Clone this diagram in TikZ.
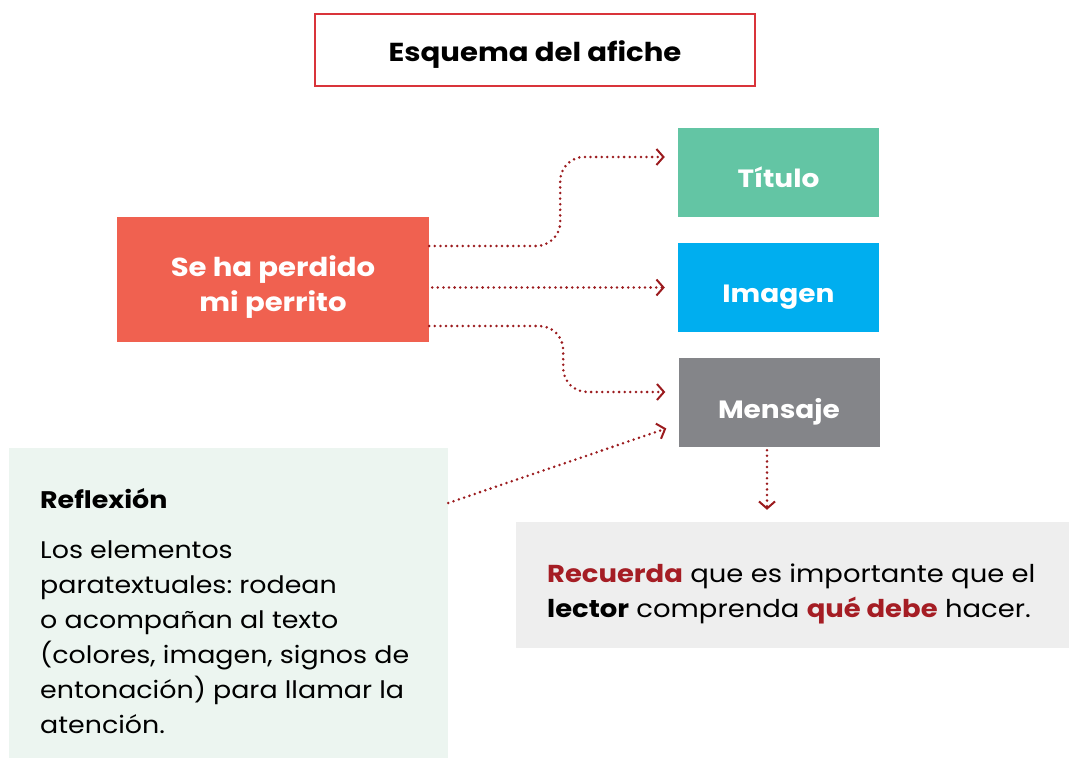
\documentclass[tikz,border=0pt]{standalone}
\usepackage{fontspec}
\setmainfont[FakeStretch=1.12]{Poppins}
\frenchspacing
\usetikzlibrary{arrows.meta,calc}
\definecolor{titred}{HTML}{D9343A}
\definecolor{arrred}{HTML}{9B1B1E}
\definecolor{txtred}{HTML}{A51D24}
\definecolor{orangebox}{HTML}{F06150}
\definecolor{greenbox}{HTML}{63C5A4}
\definecolor{bluebox}{HTML}{00AEEF}
\definecolor{greybox}{HTML}{848589}
\definecolor{mintbox}{HTML}{ECF5F0}
\definecolor{lightgrey}{HTML}{EEEEEE}
\tikzset{
  colbox/.style={rectangle, inner sep=0pt, minimum width=201pt, minimum height=89pt,
     text=white, font=\fontsize{25}{34}\selectfont\bfseries},
  conn/.style={draw=arrred, line width=2.8pt, line cap=round,
     dash pattern=on 0pt off 5.6pt,
     -{Straight Barb[length=7pt, width=16pt, line width=2pt, line cap=butt]}},
}
\begin{document}
\begin{tikzpicture}[x=1pt,y=-1pt]
\useasboundingbox (0,0) rectangle (1069,759);
% title
\node[draw=titred, line width=2pt, minimum width=440pt, minimum height=72pt, inner sep=0pt] (title) at (535,50) {};
\node[anchor=base, inner sep=0pt, font=\fontsize{26}{34}\selectfont\bfseries] (titlet) at (535,62) {Esquema del afiche};
% main box
\node[fill=orangebox, minimum width=312pt, minimum height=125pt, inner sep=0pt] (o) at (273,279.5) {};
\node[anchor=base, inner sep=0pt, text=white, font=\fontsize{26}{35}\selectfont\bfseries] (ot1) at (273,277) {Se ha perdido};
\node[anchor=base, inner sep=0pt, text=white, font=\fontsize{26}{35}\selectfont\bfseries] (ot2) at (273,312) {mi perrito};
% three boxes
\node[colbox, fill=greenbox] (tit) at (778.5,172.5) {};
\node[colbox, fill=bluebox] (img) at (778.5,287.5) {};
\node[colbox, fill=greybox] (men) at (779,402.5) {};
\node[colbox, anchor=base, minimum width=0pt, minimum height=0pt] (titt) at (778.5,188) {Título};
\node[colbox, anchor=base, minimum width=0pt, minimum height=0pt] (imgt) at (778.5,303) {Imagen};
\node[colbox, anchor=base, minimum width=0pt, minimum height=0pt] (ment) at (779,418) {Mensaje};
% reflexion box
\node[fill=mintbox, minimum width=439pt, minimum height=310pt, inner sep=0pt] (ref) at (228.5,603) {};
\node[anchor=base west, inner sep=0pt, font=\fontsize{24}{35}\selectfont\bfseries] (reft) at (40,508) {Reflexión};
\node[anchor=base west, inner sep=0pt, align=left, font=\fontsize{24}{35}\selectfont] (refb) at (40,733)
  {Los elementos\\paratextuales: rodean\\o acompañan al texto\\(colores, imagen, signos de\\entonación) para llamar la\\atención.};
% recuerda box
\node[fill=lightgrey, minimum width=553pt, minimum height=126pt, inner sep=0pt] (rec) at (792.5,585) {};
\node[anchor=base west, inner sep=0pt, align=left, font=\fontsize{24.5}{35}\selectfont] (rect) at (547,617)
  {\textcolor{txtred}{\bfseries Recuerda} que es importante que el\\{\bfseries lector} comprenda \textcolor{txtred}{\bfseries qué debe} hacer.};
% connectors
\draw[conn, rounded corners=24pt] ([yshift=33.5]o.east) -- ++(131,0) |- ([xshift=-13,yshift=15.5]tit.west);
\draw[conn] ([xshift=3]o.east |- img.west) -- ([xshift=-13]img.west);
\draw[conn, rounded corners=24pt] ([yshift=-46.5]o.east) -- ++(134,0) |- ([xshift=-13,yshift=10.5]men.west);
\draw[conn] ([yshift=100]ref.east) -- ([xshift=-12,yshift=-26]men.west);
\draw[conn] ([xshift=-12,yshift=-3]men.south) -- ([xshift=-12,yshift=12]men.south |- rec.north);
\end{tikzpicture}
\end{document}
